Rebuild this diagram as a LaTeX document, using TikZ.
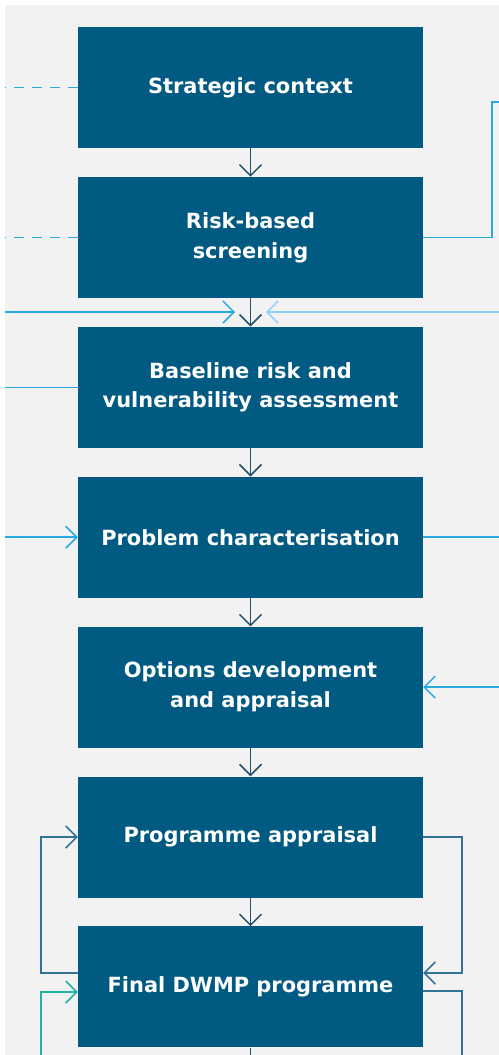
\documentclass[tikz,border=0pt]{standalone}
\usepackage{fontspec}
\setmainfont{DejaVu Sans}
\usetikzlibrary{positioning,arrows.meta}

\definecolor{stageblue}{RGB}{0,90,130}
\definecolor{flowdark}{RGB}{35,80,105}
\definecolor{loopblue}{RGB}{50,115,150}
\definecolor{feedcyan}{RGB}{40,170,225}
\definecolor{feedpale}{RGB}{140,210,245}
\definecolor{feedgreen}{RGB}{30,180,160}
\definecolor{panelgrey}{RGB}{242,242,242}

\tikzset{
  stage/.style={rectangle, fill=stageblue, text=white, inner sep=0pt,
    minimum width=345bp, minimum height=121bp, align=center,
    font=\fontsize{21}{30}\selectfont\bfseries},
  chev/.style={-{Straight Barb[length=11bp,width=22bp]}},
  link/.style={line width=1.5bp}
}

\begin{document}
\begin{tikzpicture}[x=1bp, y=-1bp, node distance=28.5bp]
  % Background panel
  \useasboundingbox (0,0) rectangle (499,1055);
  \fill[panelgrey] (5,5) rectangle (499,1055);

  % Stages
  \node[stage] (s1) at (250.5,87.5) {Strategic context};
  \node[stage, below=of s1] (s2) {Risk-based\\screening};
  \node[stage, below=of s2] (s3) {Baseline risk and\\vulnerability assessment};
  \node[stage, below=of s3] (s4) {Problem characterisation};
  \node[stage, below=of s4] (s5) {Options development\\and appraisal};
  \node[stage, below=of s5] (s6) {Programme appraisal};
  \node[stage, below=of s6] (s7) {Final DWMP programme};

  % Main flow
  \foreach \a/\b in {s1/s2, s2/s3, s3/s4, s4/s5, s5/s6, s6/s7} {
    \draw[flowdark, link, chev] (\a) -- (\b);
  }
  \coordinate (out) at (s7.south |- 0,1055);
  \draw[flowdark, link] (s7) -- (out);

  % Left inputs
  \coordinate (l1) at (s1.west -| 5,0);
  \coordinate (l2) at (s2.west -| 5,0);
  \coordinate (l3) at (5,312);
  \coordinate (l4) at (s3.west -| 5,0);
  \coordinate (l5) at (s4.west -| 5,0);
  \coordinate (m3) at (235,312);
  \draw[feedcyan, link, dash pattern=on 10bp off 8bp] (s1) -- (l1);
  \draw[feedcyan, link, dash pattern=on 10bp off 8bp] (s2) -- (l2);
  \draw[feedcyan, link, chev] (l3) -- (m3);
  \draw[feedcyan, link] (l4) -- (s3);
  \draw[feedcyan, link, chev] (l5) -- (s4);

  % Right links
  \coordinate (r1) at (499,102);
  \coordinate (r3) at (499,312);
  \coordinate (n3) at (266,312);
  \coordinate (r4) at (s4.east -| 499,0);
  \coordinate (r5) at (s5.east -| 499,0);
  \draw[feedcyan, link] (s2.east) -- ++(69,0) |- (r1);
  \draw[feedpale, link, chev] (r3) -- (n3);
  \draw[feedcyan, link] (s4) -- (r4);
  \draw[feedcyan, link, chev] (r5) -- (s5);

  % Review loops
  \draw[loopblue, link, chev] (s7.west |- 0,973) -- (41,973) |- (s6.west);
  \draw[loopblue, link, chev] (s6.east) -- ++(39,0) |- (s7.east |- 0,973);
  \coordinate (g0) at (41,1055);
  \draw[feedgreen, link, chev] (g0) |- (s7.west |- 0,992);
  \coordinate (b0) at (462,1055);
  \draw[loopblue, link] (s7.east |- 0,991) -| (b0);

\end{tikzpicture}
\end{document}
